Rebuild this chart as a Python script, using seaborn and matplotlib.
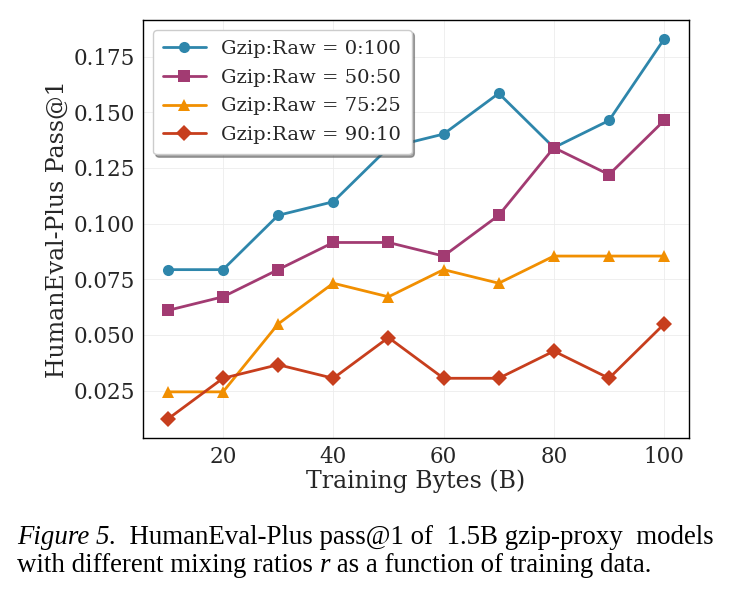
import matplotlib
matplotlib.use("Agg")
import matplotlib.pyplot as plt
import seaborn as sns
import pandas as pd

# Dados (HumanEval-Plus pass@1, 164 problemas)
training_bytes = [10, 20, 30, 40, 50, 60, 70, 80, 90, 100]
ratio_0_100 = [0.0793, 0.0793, 0.1037, 0.1098, 0.1341, 0.1402, 0.1585, 0.1341, 0.1463, 0.1829]
ratio_50_50 = [0.0610, 0.0671, 0.0793, 0.0915, 0.0915, 0.0854, 0.1037, 0.1341, 0.1220, 0.1463]
ratio_75_25 = [0.0244, 0.0244, 0.0549, 0.0732, 0.0671, 0.0793, 0.0732, 0.0854, 0.0854, 0.0854]
ratio_90_10 = [0.0122, 0.0305, 0.0366, 0.0305, 0.0488, 0.0305, 0.0305, 0.0427, 0.0305, 0.0549]

series_labels = ['Gzip:Raw = 0:100', 'Gzip:Raw = 50:50', 'Gzip:Raw = 75:25', 'Gzip:Raw = 90:10']
series_values = [ratio_0_100, ratio_50_50, ratio_75_25, ratio_90_10]
colors = ['#2E86AB', '#A23B72', '#F18F01', '#C73E1D']
markers = ['o', 's', '^', 'D']

df = pd.concat([
    pd.DataFrame({'bytes': training_bytes, 'pass1': vals, 'mix': lab})
    for lab, vals in zip(series_labels, series_values)
])

sns.set_theme(style='whitegrid')
plt.rcParams['font.family'] = ['DejaVu Serif']
plt.rcParams['axes.edgecolor'] = 'black'
plt.rcParams['grid.color'] = '#ececec'
plt.rcParams['grid.linewidth'] = 0.6

fig = plt.figure(figsize=(7.35, 5.92), dpi=100)
ax = fig.add_axes([0.1946, 0.2601, 0.7428, 0.7061])

sns.lineplot(data=df, x='bytes', y='pass1', hue='mix', style='mix',
             palette=colors, markers=markers, dashes=False,
             markersize=8, linewidth=2, markeredgewidth=0, ax=ax)

ax.set_xlabel('Training Bytes (B)', fontsize=17, labelpad=1)
ax.set_ylabel('HumanEval-Plus Pass@1', fontsize=17, labelpad=3)
ax.tick_params(labelsize=15.5, length=0, pad=6)
ax.set_xticks([20, 40, 60, 80, 100])
ax.set_yticks([0.025, 0.050, 0.075, 0.100, 0.125, 0.150, 0.175])
ax.yaxis.set_major_formatter(matplotlib.ticker.FormatStrFormatter('%.3f'))
for s in ax.spines.values():
    s.set_linewidth(1.0)
    s.set_color('black')

leg = ax.legend(loc='upper left', fontsize=14, frameon=True, shadow=True,
                fancybox=True, framealpha=1, borderpad=0.53, labelspacing=0.55,
                handlelength=2.2)
leg.get_frame().set_edgecolor('#cccccc')

# Legenda da figura (caption)
cap = dict(fontsize=19.4, family='Liberation Serif', color='black')
t1 = fig.text(17 / 735, 1 - 544 / 592, 'Figure 5.', style='italic', va='baseline', **cap)
plt.annotate('  HumanEval-Plus pass@1 of  1.5B gzip-proxy  models', xy=(1, 0),
             xycoords=t1, va='bottom', annotation_clip=False, **cap)
t3 = fig.text(17 / 735, 1 - 572 / 592, 'with different mixing ratios ', va='baseline', **cap)
t4 = plt.annotate('r', xy=(1, 0), xycoords=t3, va='bottom', style='italic',
                  annotation_clip=False, **cap)
plt.annotate(' as a function of training data.', xy=(1, 0), xycoords=t4,
             va='bottom', annotation_clip=False, **cap)

fig.savefig('out.png', dpi=100)
